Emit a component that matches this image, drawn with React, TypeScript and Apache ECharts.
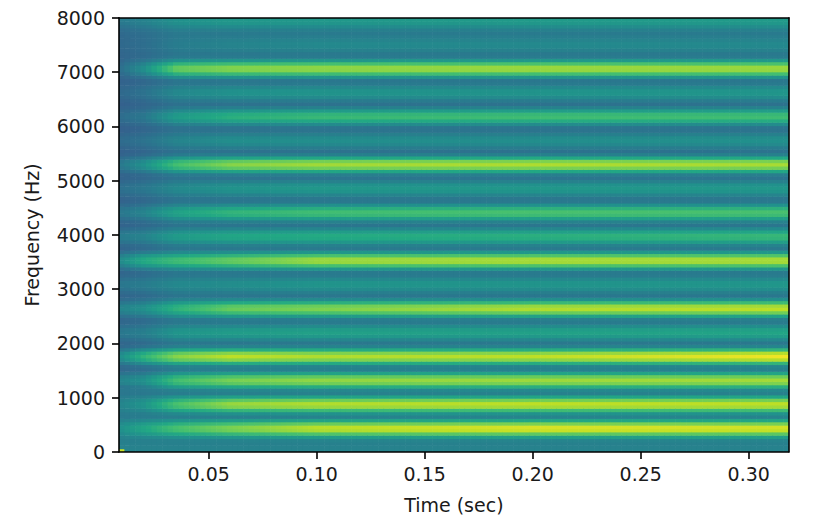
import React, { useEffect, useRef } from "react";
import * as echarts from "echarts";

// ---- axes ----
const timeRange = [0.0085, 0.3185];
const timeBins = 124;
const freqMaxHz = 8000;
const freqBins = 129;
const xTickValues = [0.05, 0.1, 0.15, 0.2, 0.25, 0.3];
const yTickValues = [0, 1000, 2000, 3000, 4000, 5000, 6000, 7000, 8000];

// ---- harmonic bands ----
const harmonicHz = [442, 884, 1326, 1768, 2210, 2652, 3094, 3536, 3978, 4420, 4862, 5304, 5746, 6188, 6630, 7072, 7514, 7956];
// peak level of each band at these times
const envelopeTimes = [0.0085, 0.02, 0.035, 0.06, 0.1, 0.2, 0.3185];
const band442 = [0.5, 0.6, 0.72, 0.82, 0.92, 0.97, 0.96];
const band884 = [0.45, 0.52, 0.72, 0.86, 0.9, 0.92, 0.92];
const band1326 = [0.45, 0.5, 0.7, 0.8, 0.84, 0.86, 0.87];
const band1768 = [0.48, 0.65, 0.82, 0.9, 0.88, 0.9, 0.98];
const band2210 = [0.4, 0.43, 0.52, 0.55, 0.57, 0.57, 0.59];
const band2652 = [0.45, 0.5, 0.65, 0.78, 0.82, 0.9, 0.92];
const band3094 = [0.4, 0.42, 0.47, 0.49, 0.52, 0.52, 0.53];
const band3536 = [0.48, 0.62, 0.7, 0.78, 0.88, 0.9, 0.9];
const band3978 = [0.42, 0.45, 0.55, 0.6, 0.62, 0.64, 0.68];
const band4420 = [0.4, 0.45, 0.58, 0.66, 0.7, 0.72, 0.72];
const band4862 = [0.37, 0.4, 0.47, 0.51, 0.53, 0.53, 0.53];
const band5304 = [0.4, 0.5, 0.7, 0.82, 0.86, 0.88, 0.87];
const band5746 = [0.35, 0.38, 0.45, 0.49, 0.49, 0.49, 0.5];
const band6188 = [0.36, 0.4, 0.55, 0.64, 0.68, 0.7, 0.7];
const band6630 = [0.34, 0.38, 0.47, 0.51, 0.52, 0.52, 0.53];
const band7072 = [0.36, 0.5, 0.78, 0.84, 0.86, 0.88, 0.88];
const band7514 = [0.34, 0.36, 0.42, 0.45, 0.47, 0.47, 0.47];
const band7956 = [0.4, 0.44, 0.5, 0.53, 0.53, 0.54, 0.54];
const bandLevels = [band442, band884, band1326, band1768, band2210, band2652, band3094, band3536, band3978,
  band4420, band4862, band5304, band5746, band6188, band6630, band7072, band7514, band7956];
// fall-off of a band, by distance in frequency bins
const bandProfile = [1, 0.85, 0.45, 0.12, 0];

// ---- background ----
const backgroundHz = [0, 250, 1000, 2000, 3000, 4000, 5000, 6000, 7000, 7900, 8000];
const backgroundLevel = [0.45, 0.42, 0.39, 0.38, 0.38, 0.37, 0.37, 0.36, 0.37, 0.41, 0.5];
const backgroundTimeShift = [-0.06, -0.04, 0, 0, 0, 0, 0];
const cornerLevel = 0.92;

const viridis = ["#440154", "#482475", "#414487", "#355f8d", "#2a788e", "#21918c", "#22a884", "#44bf70", "#7ad151", "#bddf26", "#fde725"];

function lookup(xs: number[], ys: number[], x: number) {
  if (x <= xs[0]) return ys[0];
  for (let i = 1; i < xs.length; i++) {
    if (x <= xs[i]) {
      const r = (x - xs[i - 1]) / (xs[i] - xs[i - 1]);
      return ys[i - 1] + (ys[i] - ys[i - 1]) * r;
    }
  }
  return ys[ys.length - 1];
}

const dt = (timeRange[1] - timeRange[0]) / timeBins;
const df = freqMaxHz / freqBins;
const profileIdx = bandProfile.map((_, i) => i);

function buildCells() {
  const cells: number[][] = [];
  for (let i = 0; i < timeBins; i++) {
    const t = timeRange[0] + (i + 0.5) * dt;
    const shift = lookup(envelopeTimes, backgroundTimeShift, t);
    for (let j = 0; j < freqBins; j++) {
      const f = (j + 0.5) * df;
      const bg = lookup(backgroundHz, backgroundLevel, f) + (f > 1200 ? shift : 0);
      let v = bg;
      for (let h = 0; h < harmonicHz.length; h++) {
        const d = Math.abs(f - harmonicHz[h]) / df;
        if (d >= bandProfile.length - 1) continue;
        const w = lookup(profileIdx, bandProfile, d);
        const peak = lookup(envelopeTimes, bandLevels[h], t);
        v = Math.max(v, bg + (peak - bg) * w);
      }
      if (i === 0 && j === 0) v = cornerLevel;
      cells.push([t, f, v]);
    }
  }
  return cells;
}

const font = "DejaVu Sans";

export default function App() {
  const ref = useRef<HTMLDivElement>(null);
  useEffect(() => {
    const chart = echarts.init(ref.current!, null, { renderer: "svg" });
    const cells = buildCells();
    const frameLine = { show: true, lineStyle: { color: "#000", width: 1.6 } };
    chart.setOption({
      animation: false,
      grid: { left: 119, right: 51.3, top: 17.9, bottom: 74, containLabel: false },
      visualMap: { show: false, type: "continuous", min: 0, max: 1, dimension: 2, seriesIndex: 0, inRange: { color: viridis } },
      xAxis: [
        {
          type: "value", min: timeRange[0], max: timeRange[1], z: 10,
          axisLine: { ...frameLine, onZero: false },
          splitLine: { show: false },
          axisTick: { show: true, inside: false, length: 7, lineStyle: { color: "#000", width: 1.6 }, customValues: xTickValues },
          axisLabel: { customValues: xTickValues, margin: 12, color: "#1a1a1a", fontFamily: font, fontSize: 19, formatter: (v: number) => v.toFixed(2) },
          name: "Time (sec)", nameLocation: "middle", nameGap: 43,
          nameTextStyle: { color: "#1a1a1a", fontFamily: font, fontSize: 19 },
        },
        {
          type: "value", position: "top", min: timeRange[0], max: timeRange[1], z: 10,
          axisLine: { ...frameLine, onZero: false }, axisTick: { show: false }, axisLabel: { show: false }, splitLine: { show: false },
        },
      ],
      yAxis: [
        {
          type: "value", min: 0, max: freqMaxHz, z: 10,
          axisLine: { ...frameLine, onZero: false },
          splitLine: { show: false },
          axisTick: { show: true, inside: false, length: 7, lineStyle: { color: "#000", width: 1.6 }, customValues: yTickValues },
          axisLabel: { customValues: yTickValues, margin: 14, color: "#1a1a1a", fontFamily: font, fontSize: 19, formatter: (v: number) => String(v) },
          name: "Frequency (Hz)", nameLocation: "middle", nameGap: 78, nameRotate: 90,
          nameTextStyle: { color: "#1a1a1a", fontFamily: font, fontSize: 19 },
        },
        {
          type: "value", position: "right", min: 0, max: freqMaxHz, z: 10,
          axisLine: { ...frameLine, onZero: false }, axisTick: { show: false }, axisLabel: { show: false }, splitLine: { show: false },
        },
      ],
      series: [
        {
          type: "custom",
          coordinateSystem: "cartesian2d",
          xAxisIndex: 0,
          yAxisIndex: 0,
          clip: true,
          progressive: 0,
          encode: { x: 0, y: 1 },
          data: cells,
          renderItem: (params: any, api: any) => {
            const t = api.value(0);
            const f = api.value(1);
            const a = api.coord([t - dt / 2, f + df / 2]);
            const b = api.coord([t + dt / 2, f - df / 2]);
            return {
              type: "rect",
              shape: { x: a[0], y: a[1], width: b[0] - a[0] + 0.6, height: b[1] - a[1] + 0.6 },
              style: { fill: api.visual("color") },
            };
          },
        },
      ],
    });
    return () => chart.dispose();
  }, []);
  return <div ref={ref} style={{ position: "absolute", left: 0, top: 0, width: 840, height: 526 }} />;
}
